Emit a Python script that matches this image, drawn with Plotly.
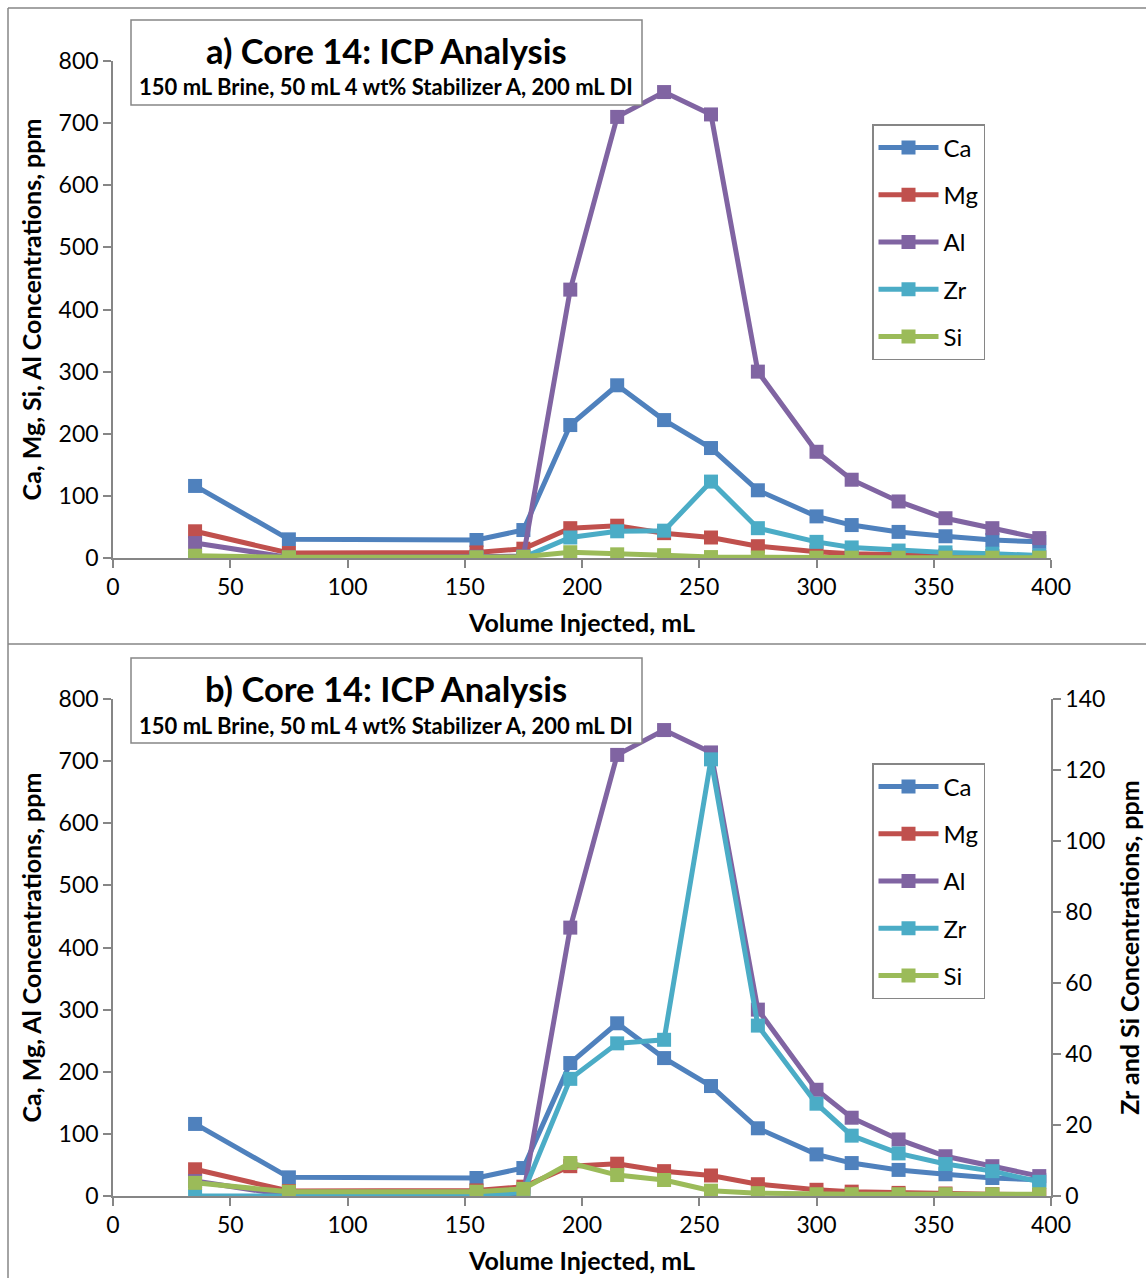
import plotly.graph_objects as go

volume = [35, 75, 155, 175, 195, 215, 235, 255, 275, 300, 315, 335, 355, 375, 395]
ca = [116, 30, 29, 45, 214, 278, 222, 177, 109, 67, 53, 42, 35, 29, 26]
mg = [43, 8, 9, 15, 48, 52, 40, 33, 19, 10, 7, 5, 4, 3, 2]
al = [24, 1, 2, 3, 432, 710, 750, 714, 300, 171, 126, 91, 64, 48, 32]
zr = [0, 0, 0, 1, 33, 43, 44, 123, 48, 26, 17, 12, 9, 7, 4]
si = [3.7, 1.2, 1.2, 2, 9.3, 5.9, 4.5, 1.5, 0.8, 0.5, 0.5, 0.5, 0.5, 0.5, 0.5]

names = ["Ca", "Mg", "Al", "Zr", "Si"]
colors = ["#4F81BD", "#C0504D", "#8064A2", "#4BACC6", "#9BBB59"]
series = [ca, mg, al, zr, si]

title_main = ["a) Core 14: ICP Analysis", "b) Core 14: ICP Analysis"]
subtitle = "150 mL Brine, 50 mL 4 wt% Stabilizer A, 200 mL DI"
ytitle_top = "Ca, Mg, Si, Al Concentrations, ppm"
ytitle_bot = "Ca, Mg, Al Concentrations, ppm"
ytitle_right = "Zr and Si Concentrations, ppm"
xtitle = "Volume Injected, mL"

W, H = 1146, 1278
FONT = "Lato"
AX = "#868686"
TICK = 23
TITLE = 25

def px_x(p):
    return p / W

def px_y(p):
    return 1 - p / H

fig = go.Figure()

for n, c, s in zip(names, colors, series):
    fig.add_trace(go.Scatter(
        x=volume, y=s, name=n, mode="lines+markers",
        line=dict(color=c, width=5),
        marker=dict(symbol="square", size=14, color=c),
        xaxis="x", yaxis="y", legend="legend", legendgroup="a" + n,
    ))

for n, c, s in zip(names, colors, series):
    sec = n in ("Zr", "Si")
    fig.add_trace(go.Scatter(
        x=volume, y=s, name=n, mode="lines+markers",
        line=dict(color=c, width=5),
        marker=dict(symbol="square", size=14, color=c),
        xaxis="x2", yaxis="y3" if sec else "y2", legend="legend2", legendgroup="b" + n,
    ))

xdom = [px_x(113), px_x(1051)]
common_x = dict(range=[0, 400], dtick=50, showgrid=False, zeroline=False, automargin=False,
                showline=True, linecolor=AX, linewidth=1.5, ticks="outside",
                ticklen=8, tickcolor=AX, tickwidth=1.5,
                tickfont=dict(family=FONT, size=TICK, color="black"),
                title=dict(text="<b>" + xtitle + "</b>", font=dict(family=FONT, size=TITLE, color="black"), standoff=15))
common_y = dict(range=[0, 800], dtick=100, showgrid=False, zeroline=False, automargin=False,
                showline=True, linecolor=AX, linewidth=1.5, ticks="outside",
                ticklen=8, tickcolor=AX, tickwidth=1.5,
                tickfont=dict(family=FONT, size=TICK, color="black"))

legend_common = dict(xanchor="left", yanchor="top", bordercolor=AX, borderwidth=1.5, bgcolor="white",
                     font=dict(family=FONT, size=24, color="black"), tracegroupgap=13,
                     traceorder="grouped", itemwidth=60)

fig.update_layout(
    width=W, height=H,
    margin=dict(l=0, r=0, t=0, b=0, autoexpand=False),
    paper_bgcolor="white", plot_bgcolor="white",
    font=dict(family=FONT, color="black"),
    xaxis=dict(domain=xdom, anchor="y", **common_x),
    yaxis=dict(domain=[px_y(558), px_y(61)], anchor="x",
               title=dict(text="<b>" + ytitle_top + "</b>", font=dict(family=FONT, size=TITLE), standoff=10),
               **common_y),
    xaxis2=dict(domain=xdom, anchor="y2", **common_x),
    yaxis2=dict(domain=[px_y(1196), px_y(699)], anchor="x2",
                title=dict(text="<b>" + ytitle_bot + "</b>", font=dict(family=FONT, size=TITLE), standoff=10),
                **common_y),
    yaxis3=dict(overlaying="y2", side="right", anchor="x2", range=[0, 140], dtick=20, automargin=False,
                showgrid=False, zeroline=False, showline=True, linecolor=AX, linewidth=1.5,
                ticks="outside", ticklen=8, tickcolor=AX, tickwidth=1.5,
                tickfont=dict(family=FONT, size=TICK, color="black"),
                title=dict(text="<b>" + ytitle_right + "</b>", font=dict(family=FONT, size=TITLE), standoff=17)),
    legend=dict(x=px_x(872), y=px_y(124), **legend_common),
    legend2=dict(x=px_x(872), y=px_y(763), **legend_common),
    showlegend=True,
)

shapes = [
    dict(type="line", xref="paper", yref="paper", x0=px_x(8), x1=1, y0=px_y(8), y1=px_y(8), line=dict(color=AX, width=1.5)),
    dict(type="line", xref="paper", yref="paper", x0=px_x(8), x1=px_x(8), y0=px_y(8), y1=0, line=dict(color=AX, width=1.5)),
    dict(type="line", xref="paper", yref="paper", x0=px_x(8), x1=1, y0=px_y(644), y1=px_y(644), line=dict(color=AX, width=1.5)),
    dict(type="rect", xref="paper", yref="paper", x0=px_x(131), x1=px_x(642), y0=px_y(105), y1=px_y(20),
         line=dict(color=AX, width=1.5), fillcolor="white", layer="above"),
    dict(type="rect", xref="paper", yref="paper", x0=px_x(131), x1=px_x(642), y0=px_y(743), y1=px_y(658),
         line=dict(color=AX, width=1.5), fillcolor="white", layer="above"),
]
fig.update_layout(shapes=shapes)

annotations = []
for i, (ty, sy) in enumerate([(50, 87), (688, 725)]):
    annotations.append(dict(xref="paper", yref="paper", x=px_x(386), y=px_y(ty), xanchor="center", yanchor="middle",
                            text="<b>" + title_main[i] + "</b>", showarrow=False,
                            font=dict(family=FONT, size=34.5, color="black")))
    annotations.append(dict(xref="paper", yref="paper", x=px_x(386), y=px_y(sy), xanchor="center", yanchor="middle",
                            text="<b>" + subtitle + "</b>", showarrow=False,
                            font=dict(family=FONT, size=22, color="black")))
fig.update_layout(annotations=annotations)

fig.write_html("out.html", config={"displayModeBar": False},
               post_script="document.body.style.margin='0';document.body.style.overflow='hidden';")
